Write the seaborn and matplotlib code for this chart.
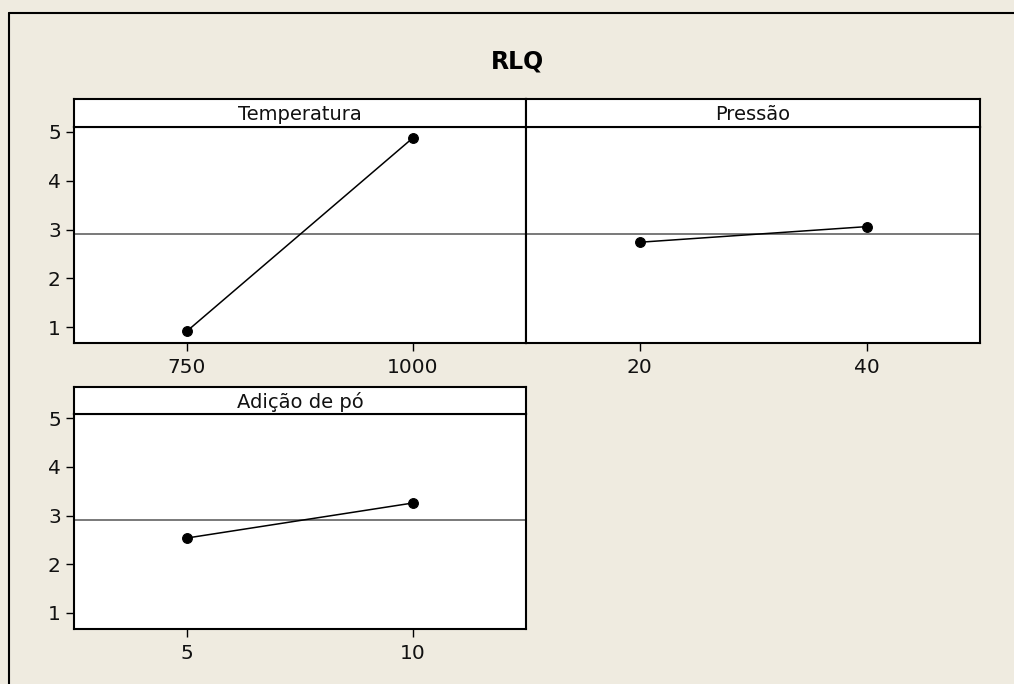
import matplotlib
matplotlib.use("Agg")
import matplotlib.pyplot as plt
from matplotlib.lines import Line2D
import seaborn as sns
import pandas as pd

# ---- data ----
title = "RLQ"
factors = ["Temperatura", "Pressão", "Adição de pó"]
temp_levels = ["750", "1000"]
temp_means = [0.92, 4.88]
press_levels = ["20", "40"]
press_means = [2.74, 3.06]
powder_levels = ["5", "10"]
powder_means = [2.54, 3.26]
grand_mean = 2.9
y_ticks = [1, 2, 3, 4, 5]

sns.set_style("ticks")
plt.rcParams["font.family"] = ["DejaVu Sans"]

W, H = 1014, 684
BG = "#efebe0"
fig = plt.figure(figsize=(W / 100, H / 100), dpi=100, facecolor=BG)


def fx(px):
    return px / W


def fy(py):
    return 1 - py / H


panels = [
    # (factor, levels, means, left, right, strip_top, data_top, data_bottom, show_y)
    (factors[0], temp_levels, temp_means, 74, 526, 98.5, 127.3, 343.3, True),
    (factors[1], press_levels, press_means, 526, 980, 98.5, 127.3, 343.3, False),
    (factors[2], powder_levels, powder_means, 74, 526, 387, 413.7, 629, True),
]

SPINE_LW = 1.5
for name, levels, means, l, r, st, dt, db, show_y in panels:
    ax = fig.add_axes([fx(l), fy(db), fx(r) - fx(l), fy(dt) - fy(db)])
    ax.set_facecolor("white")
    df = pd.DataFrame({"level": levels, "mean": means})
    ax.axhline(grand_mean, color="#555555", lw=1.1, zorder=1)
    sns.pointplot(data=df, x="level", y="mean", order=levels, color="black",
                  markers="o", linestyles="-", errorbar=None, ax=ax,
                  markersize=7, linewidth=1.1)
    ax.set_xlim(-0.5, 1.5)
    ax.set_ylim(0.67, 5.095)
    ax.set_yticks(y_ticks)
    ax.set_xlabel("")
    ax.set_ylabel("")
    for s in ax.spines.values():
        s.set_visible(True)
        s.set_linewidth(SPINE_LW)
        s.set_color("black")
    ax.spines["top"].set_color("#333333")
    ax.tick_params(axis="both", direction="out", length=5.5, width=1,
                   colors="black", labelsize=14.5, pad=4)
    ax.tick_params(axis="x", pad=5)
    if not show_y:
        ax.tick_params(axis="y", left=False, labelleft=False)
    for t in ax.get_yticklabels() + ax.get_xticklabels():
        t.set_color("#111111")

    sax = fig.add_axes([fx(l), fy(dt), fx(r) - fx(l), fy(st) - fy(dt)])
    sax.set_facecolor("white")
    sax.set_xticks([])
    sax.set_yticks([])
    for s in sax.spines.values():
        s.set_visible(True)
        s.set_linewidth(SPINE_LW)
        s.set_color("black")
    sax.text(0.5, 0.45, name, ha="center", va="center", fontsize=14,
             color="#111111", transform=sax.transAxes)

fig.text(fx(517.5), fy(62), title, ha="center", va="center",
         fontsize=17, fontweight="bold", color="black")

# outer frame lines
fig.add_artist(Line2D([fx(8.5), fx(8.5)], [0, fy(12.5)], color="black",
                      lw=1.5, transform=fig.transFigure))
fig.add_artist(Line2D([fx(8.5), 1], [fy(12.5), fy(12.5)], color="black",
                      lw=1.5, transform=fig.transFigure))

fig.savefig("out.png", dpi=100, facecolor=BG)
